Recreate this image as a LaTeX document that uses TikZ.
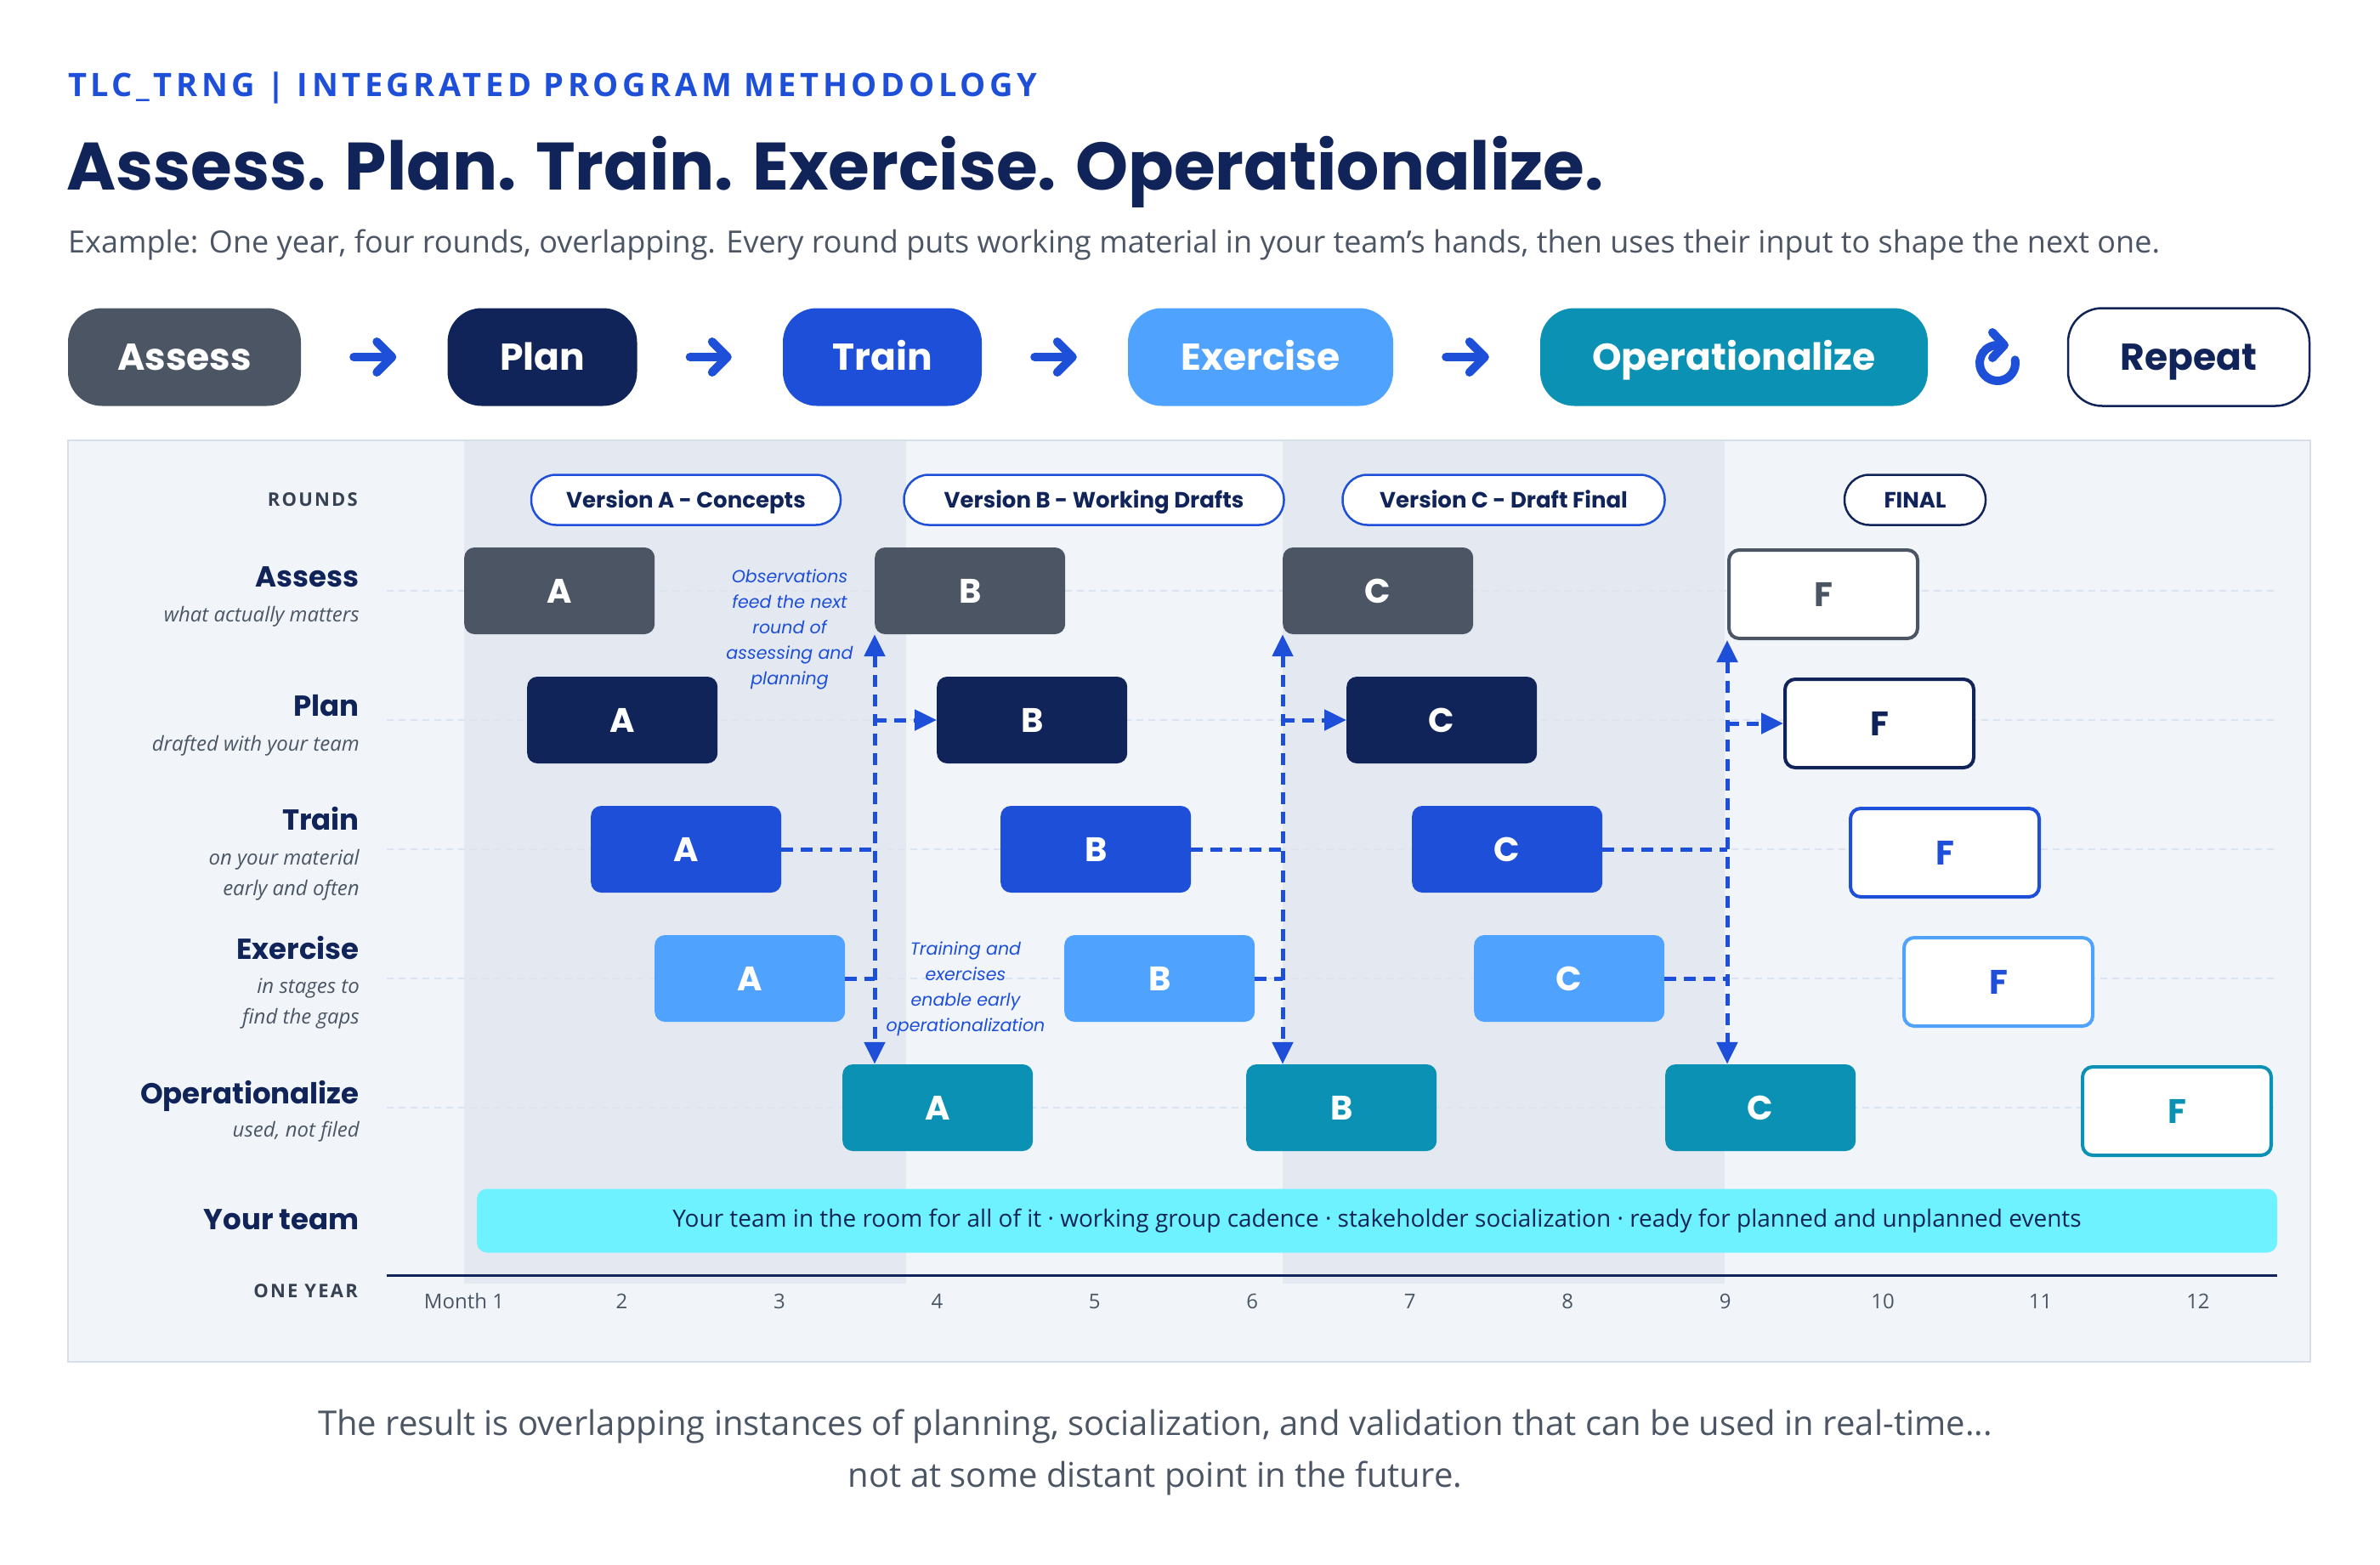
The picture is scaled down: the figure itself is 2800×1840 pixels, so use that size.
\documentclass[tikz,border=0pt]{standalone}
\usepackage{fontspec}
\setmainfont{Open Sans}
\newfontfamily\pop{Poppins}
\newfontfamily\spaced[LetterSpace=10]{Open Sans}
\newfontfamily\kick[LetterSpace=12]{Open Sans}
\usetikzlibrary{arrows.meta}
\definecolor{navy}{HTML}{11245A}
\definecolor{cblue}{HTML}{1E4FD8}
\definecolor{lblue}{HTML}{4FA3FF}
\definecolor{teal}{HTML}{0A91B3}
\definecolor{slate}{HTML}{4B5563}
\definecolor{dgray}{HTML}{374151}
\definecolor{panel}{HTML}{F1F5FA}
\definecolor{band}{HTML}{E4E9F1}
\definecolor{panelb}{HTML}{D6DEE8}
\definecolor{cyanb}{HTML}{6EF2FF}
\definecolor{guidec}{HTML}{DCE4EF}
\tikzset{
  pill/.style={rectangle, rounded corners=40pt, minimum height=115pt, inner sep=0pt, text height=31pt, text depth=0pt, font=\pop\bfseries\fontsize{44}{50}\selectfont, text=white},
  flowarrow/.style={draw=cblue, line width=10pt, line cap=round, -{Straight Barb[length=18pt,width=36pt,line cap=round,line join=round]}, shorten <=62pt, shorten >=60pt},
  ver/.style={rectangle, rounded corners=29pt, minimum height=59pt, draw=cblue, line width=2.5pt, fill=white, text height=18pt, text depth=0pt, font=\pop\bfseries\fontsize{26}{26}\selectfont, text=navy, inner sep=0pt},
  bx/.style={rectangle, rounded corners=12pt, minimum width=224pt, minimum height=102pt, inner sep=0pt, anchor=west, text=white, font=\pop\bfseries\fontsize{40}{40}\selectfont},
  fbx/.style={bx, fill=white, line width=4pt, minimum width=222pt, minimum height=104pt},
  conn/.style={draw=cblue, line width=5pt, dash pattern=on 14pt off 9pt},
  tip/.style={-{Triangle[length=26pt,width=24pt]}},
  both/.style={{Triangle[length=26pt,width=24pt]}-{Triangle[length=26pt,width=24pt]}},
  guide/.style={draw=guidec, line width=1.5pt, dash pattern=on 8pt off 6pt},
  rowt/.style={anchor=base east, inner sep=0pt, font=\pop\bfseries\fontsize{34}{34}\selectfont, text=navy},
  rows/.style={anchor=base east, inner sep=0pt, font=\itshape\fontsize{24}{24}\selectfont, text=slate},
  month/.style={anchor=base, inner sep=0pt, font=\fontsize{24}{24}\selectfont, text=slate},
  note/.style={align=center, inner sep=0pt, font=\pop\itshape\fontsize{20.6}{30}\selectfont, text=cblue},
  caps/.style={anchor=base east, inner sep=0pt, font=\spaced\bfseries\fontsize{22}{22}\selectfont, text=dgray},
}
\begin{document}
\begin{tikzpicture}[x=1pt,y=-1pt]
\useasboundingbox (0,0) rectangle (2800,1840);
\fill[white] (0,0) rectangle (2800,1840);

% ---------- header ----------
\node[anchor=base west, inner sep=0pt, font=\kick\bfseries\fontsize{38}{38}\selectfont, text=cblue] (kicker) at (80,113) {TLC\_TRNG | INTEGRATED PROGRAM METHODOLOGY};
\node[anchor=base west, inner sep=0pt, font=\pop\bfseries\fontsize{79}{79}\selectfont, text=navy] (title) at (78,223) {Assess. Plan. Train. Exercise. Operationalize.};
\node[anchor=base west, inner sep=0pt, font=\fontsize{36}{36}\selectfont, text=slate] (sub) at (80,297) {Example: One year, four rounds, overlapping. Every round puts working material in your team's hands, then uses their input to shape the next one.};

% ---------- process pills ----------
\node[pill, fill=slate, minimum width=274pt] (pA) at (217,420) {Assess};
\node[pill, fill=navy, minimum width=223pt] (pP) at (638,420) {Plan};
\node[pill, fill=cblue, minimum width=234pt] (pT) at (1038,420) {Train};
\node[pill, fill=lblue, minimum width=312pt] (pE) at (1483,420) {Exercise};
\node[pill, fill=teal, minimum width=456pt] (pO) at (2040,420) {Operationalize};
\node[pill, fill=white, draw=navy, line width=2.5pt, text=navy, minimum width=284pt] (pR) at (2575,420) {Repeat};
\draw[flowarrow] (pA) -- (pP);
\draw[flowarrow] (pP) -- (pT);
\draw[flowarrow] (pT) -- (pE);
\draw[flowarrow] (pE) -- (pO);
% repeat icon
\coordinate (cyc) at (2350,427);
\draw[draw=cblue, line width=10pt, line cap=round, -{Straight Barb[length=14pt,width=30pt,line cap=round,line join=round]}]
  ([shift={(-10:21)}]cyc) arc[start angle=-10, end angle=270, radius=21] -- ++(13,0);

% ---------- panel ----------
\draw[fill=panel, draw=panelb, line width=2pt] (80,518) rectangle (2718,1602);
\fill[band] (546,519) rectangle (1066,1510);
\fill[band] (1509,519) rectangle (2029,1510);

% guide lines
\foreach \yy in {695,847,999,1151,1303}
  \draw[guide] (455,\yy) -- (2679,\yy);

% labels on left
\node[caps] (rounds) at (421,595) {ROUNDS};
\node[rowt] (lA) at (423,690) {Assess};
\node[rows] (lAs) at (423,731) {what actually matters};
\node[rowt] (lP) at (423,842) {Plan};
\node[rows] (lPs) at (423,883) {drafted with your team};
\node[rowt] (lT) at (423,976) {Train};
\node[rows] (lTs1) at (423,1017) {on your material};
\node[rows] (lTs2) at (423,1053) {early and often};
\node[rowt] (lE) at (423,1128) {Exercise};
\node[rows] (lEs1) at (423,1168) {in stages to};
\node[rows] (lEs2) at (423,1204) {find the gaps};
\node[rowt] (lO) at (423,1298) {Operationalize};
\node[rows] (lOs) at (423,1337) {used, not filed};
\node[rowt] (lY) at (423,1446) {Your team};
\node[caps] (oneyear) at (421,1526) {ONE YEAR};

% version pills
\node[ver, minimum width=364pt] (vA) at (807,588) {Version A - Concepts};
\node[ver, minimum width=447pt] (vB) at (1287,588) {Version B - Working Drafts};
\node[ver, minimum width=379pt] (vC) at (1769,588) {Version C - Draft Final};
\node[ver, draw=navy, minimum width=166pt] (vF) at (2253,588) {FINAL};

% boxes: Assess
\node[bx, fill=slate] (aA) at (546,695) {A};
\node[bx, fill=slate] (aB) at (1029,695) {B};
\node[bx, fill=slate] (aC) at (1509,695) {C};
\node[fbx, draw=slate, text=slate] (aF) at (2032,699) {F};
% Plan
\node[bx, fill=navy] (pA2) at (620,847) {A};
\node[bx, fill=navy] (pB) at (1102,847) {B};
\node[bx, fill=navy] (pC) at (1584,847) {C};
\node[fbx, draw=navy, text=navy] (pF) at (2098,851) {F};
% Train
\node[bx, fill=cblue] (tA) at (695,999) {A};
\node[bx, fill=cblue] (tB) at (1177,999) {B};
\node[bx, fill=cblue] (tC) at (1661,999) {C};
\node[fbx, draw=cblue, text=cblue] (tF) at (2175,1003) {F};
% Exercise
\node[bx, fill=lblue] (eA) at (770,1151) {A};
\node[bx, fill=lblue] (eB) at (1252,1151) {B};
\node[bx, fill=lblue] (eC) at (1734,1151) {C};
\node[fbx, draw=lblue, text=cblue] (eF) at (2238,1155) {F};
% Operationalize
\node[bx, fill=teal] (oA) at (991,1303) {A};
\node[bx, fill=teal] (oB) at (1466,1303) {B};
\node[bx, fill=teal] (oC) at (1959,1303) {C};
\node[fbx, draw=teal, text=teal] (oF) at (2448,1307) {F};

% connectors round A
\draw[conn] (tA.east) -- (tA.east -| aB.south west);
\draw[conn] (eA.east) -- (eA.east -| aB.south west);
\draw[conn, tip] (aB.south west |- pB.west) -- (pB.west);
\draw[conn, both] (aB.south west) -- (aB.south west |- oA.north);
% round B
\draw[conn] (tB.east) -- (tB.east -| aC.south west);
\draw[conn] (eB.east) -- (eB.east -| aC.south west);
\draw[conn, tip] (aC.south west |- pC.west) -- (pC.west);
\draw[conn, both] (aC.south west) -- (aC.south west |- oB.north);
% round C
\draw[conn] (tC.east) -- (tC.east -| aF.south west);
\draw[conn] (eC.east) -- (eC.east -| aF.south west);
\draw[conn, tip] (aF.south west |- pF.west) -- (pF.west);
\draw[conn, both] (aF.south west) -- (aF.south west |- oC.north);

% notes
\node[note] (n1) at (929,740) {Observations\\feed the next\\round of\\assessing and\\planning};
\node[note] (n2) at (1136,1163) {Training and\\exercises\\enable early\\operationalization};

% team bar
\node[rectangle, rounded corners=12pt, fill=cyanb, minimum width=2118pt, minimum height=75pt, inner sep=0pt, font=\fontsize{28}{28}\selectfont, text=navy] (team) at (1620,1436) {Your team in the room for all of it · working group cadence · stakeholder socialization · ready for planned and unplanned events};

% axis
\draw[navy, line width=3pt] (455,1500) -- (2679,1500);
\node[month] (m1) at (546,1539) {Month 1};
\foreach \i in {2,...,12}
  \node[month] (m\i) at ({546+(\i-1)*185.45},1539) {\i};

% caption
\node[align=center, inner sep=0pt, font=\fontsize{40}{61}\selectfont, text=slate] (cap) at (1359,1708) {The result is overlapping instances of planning, socialization, and validation that can be used in real-time...\\not at some distant point in the future.};
\end{tikzpicture}
\end{document}
